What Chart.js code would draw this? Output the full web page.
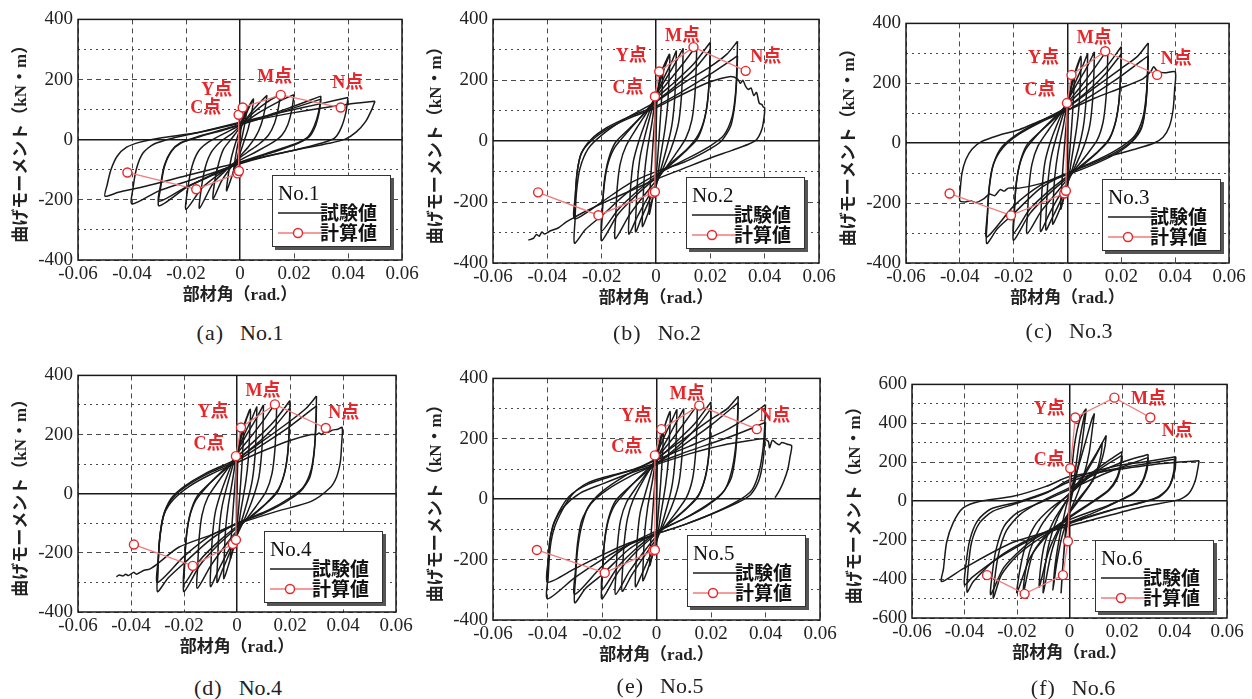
<!DOCTYPE html>
<html lang="ja">
<head>
<meta charset="UTF-8">
<title>部材角－曲げモーメント関係</title>
<script src="https://cdn.jsdelivr.net/npm/chart.js"></script>
<style>
  body { margin: 0; background: #fff; }
  #page { position: relative; width: 1252px; height: 699px; overflow: hidden; background: #fff; }
  .cap { position: absolute; width: 220px; text-align: center; font-family: "Liberation Serif", serif; font-size: 22px; line-height: 26px; color: #222; white-space: nowrap; }
  .cap .p { letter-spacing: 1px; margin-right: 16px; }
</style>
</head>
<body>
<div id="page"></div>
<script>
// ---- axes ----
const xTicks = [-0.06, -0.04, -0.02, 0, 0.02, 0.04, 0.06];
const yTicks400 = [-400, -300, -200, -100, 0, 100, 200, 300, 400];
const yTicks600 = [-600, -500, -400, -300, -200, -100, 0, 100, 200, 300, 400, 500, 600];

// ---- 計算値 (N-, M-, Y-, C-, C+, Y+, M+, N+) ----
const calcNo1 = [[-0.0417,-109],[-0.0162,-165],[-0.0009,-112],[-0.0004,-104],[-0.0005,83],[0.001,107],[0.0151,149],[0.0373,107]];
const calcNo2 = [[-0.0434,-168],[-0.0212,-243],[-0.0012,-170],[-0.0004,-166],[-0.0004,147],[0.0012,229],[0.0138,309],[0.033,231]];
const calcNo3 = [[-0.0438,-168],[-0.021,-241],[-0.0012,-168],[-0.0006,-159],[-0.0002,134],[0.0015,228],[0.014,307],[0.0333,228]];
const calcNo4 = [[-0.0389,-172],[-0.0167,-244],[-0.0016,-170],[-0.0004,-156],[-0.0004,127],[0.0015,224],[0.0143,302],[0.0335,222]];
const calcNo5 = [[-0.0439,-168],[-0.019,-244],[-0.0012,-170],[-0.0006,-168],[-0.0006,145],[0.0018,232],[0.0157,310],[0.0368,232]];
const calcNo6 = [[-0.0314,-380],[-0.0171,-476],[-0.0025,-380],[-0.0006,-206],[0.0003,169],[0.0022,430],[0.0171,532],[0.0308,430]];
const tagIndex = { C: 4, Y: 5, M: 6, N: 7 };

// ---- 試験値 (one array per cycle) ----
const loopsNo1 = [
  [[0,0],[0.0008,70],[0.0025,100],[0.0018,55],[0.0008,10],[-0.0005,-40],[-0.0015,-85],[-0.0025,-115],[-0.0018,-65],[-0.0008,-15],[0.0005,40],[0.0015,75],[0.0025,100]],
  [[0.0025,100],[0.005,135],[0.0042,85],[0.003,35],[0.0015,-5],[0,-45],[-0.002,-95],[-0.0035,-135],[-0.005,-170],[-0.0043,-115],[-0.0032,-60],[-0.0018,-15],[0,35],[0.002,80],[0.0035,110],[0.005,135]],
  [[0.01,148],[0.0092,100],[0.0078,50],[0.0058,10],[0.003,-25],[0,-55],[-0.004,-100],[-0.007,-140],[-0.01,-198],[-0.0093,-135],[-0.0078,-75],[-0.006,-30],[-0.003,5],[0,40],[0.004,90],[0.007,120],[0.01,148]],
  [[0.015,152],[0.0142,105],[0.0128,55],[0.0105,15],[0.007,-15],[0.003,-40],[0,-60],[-0.005,-100],[-0.01,-145],[-0.015,-228],[-0.0143,-160],[-0.0128,-90],[-0.0105,-40],[-0.007,-5],[-0.003,20],[0,45],[0.005,90],[0.01,125],[0.015,152]],
  [[0.02,150],[0.0192,100],[0.0177,50],[0.0155,15],[0.012,-10],[0.006,-40],[0,-68],[-0.007,-110],[-0.014,-160],[-0.02,-232],[-0.0193,-160],[-0.0178,-90],[-0.0155,-40],[-0.012,-10],[-0.006,20],[0,48],[0.007,90],[0.014,125],[0.02,150]],
  [[0.03,145],[0.0292,95],[0.0275,45],[0.0252,10],[0.02,-15],[0.01,-45],[0,-75],[-0.01,-115],[-0.02,-160],[-0.03,-220],[-0.0294,-160],[-0.028,-90],[-0.0255,-40],[-0.022,-12],[-0.015,10],[-0.005,35],[0.005,65],[0.018,105],[0.03,145]],
  [[0.03,135],[0.0293,90],[0.0278,42],[0.0255,8],[0.02,-18],[0.01,-48],[0,-78],[-0.01,-118],[-0.02,-158],[-0.03,-205],[-0.0294,-150],[-0.028,-85],[-0.0255,-38],[-0.022,-10],[-0.015,12],[-0.005,37],[0.005,63],[0.018,100],[0.03,135]],
  [[0.04,140],[0.0392,90],[0.0375,40],[0.035,5],[0.03,-12],[0.02,-35],[0.01,-55],[0,-80],[-0.015,-125],[-0.03,-170],[-0.04,-214],[-0.0396,-160],[-0.0383,-95],[-0.036,-45],[-0.032,-15],[-0.025,5],[-0.015,25],[0,58],[0.015,90],[0.03,120],[0.04,140]],
  [[0.05,128],[0.0488,100],[0.0465,60],[0.043,25],[0.039,2],[0.033,-12],[0.02,-35],[0,-75],[-0.02,-120],[-0.035,-155],[-0.045,-175],[-0.05,-188],[-0.0492,-150],[-0.0478,-100],[-0.0455,-55],[-0.042,-25],[-0.037,-8],[-0.03,5],[-0.015,25],[0,55],[0.02,90],[0.04,118],[0.05,128]]
];

const loopsNo2 = [
  [[0,0],[0.0003,120],[0.0012,200],[0.0025,240],[0.0022,160],[0.0015,60],[0,-120],[-0.0015,-200],[-0.0025,-240],[-0.0022,-160],[-0.0015,-60],[0,120],[0.0015,200],[0.0025,240]],
  [[0.0025,240],[0.005,285],[0.0048,210],[0.0043,120],[0.0033,40],[0.0015,-60],[0,-150],[-0.002,-210],[-0.0035,-250],[-0.005,-280],[-0.0048,-205],[-0.0043,-115],[-0.0033,-35],[-0.0015,60],[0,150],[0.002,210],[0.0035,250],[0.005,285]],
  [[0.0075,298],[0.0073,220],[0.0068,130],[0.0058,50],[0.004,-20],[0,-145],[-0.003,-205],[-0.0055,-255],[-0.0075,-298],[-0.0073,-220],[-0.0068,-130],[-0.0058,-50],[-0.004,20],[0,150],[0.003,210],[0.0055,255],[0.0075,298]],
  [[0.01,305],[0.0098,230],[0.0093,140],[0.0083,60],[0.0065,0],[0.004,-60],[0,-140],[-0.004,-200],[-0.007,-250],[-0.01,-305],[-0.0098,-230],[-0.0093,-145],[-0.0083,-65],[-0.0065,-5],[-0.004,60],[0,150],[0.004,210],[0.007,255],[0.01,305]],
  [[0.015,315],[0.0148,240],[0.0143,150],[0.0132,70],[0.011,10],[0.007,-45],[0.003,-95],[0,-130],[-0.005,-185],[-0.01,-245],[-0.015,-320],[-0.0148,-245],[-0.0143,-155],[-0.0132,-75],[-0.011,-15],[-0.007,45],[-0.003,100],[0,145],[0.005,200],[0.01,255],[0.015,315]],
  [[0.02,325],[0.0198,250],[0.0193,160],[0.018,80],[0.0155,20],[0.011,-30],[0.005,-75],[0,-120],[-0.007,-175],[-0.014,-240],[-0.02,-327],[-0.0198,-250],[-0.0193,-165],[-0.018,-85],[-0.0155,-25],[-0.011,25],[-0.005,85],[0,140],[0.007,195],[0.014,255],[0.02,325]],
  [[0.02,300],[0.0197,220],[0.019,130],[0.0175,60],[0.015,5],[0.01,-40],[0.005,-80],[0,-115],[-0.007,-165],[-0.014,-225],[-0.02,-295],[-0.0197,-215],[-0.019,-130],[-0.0175,-60],[-0.015,-5],[-0.01,40],[-0.005,85],[0,130],[0.007,180],[0.014,235],[0.02,300]],
  [[0.03,328],[0.0298,250],[0.0293,160],[0.028,80],[0.025,20],[0.02,-15],[0.012,-55],[0,-110],[-0.01,-165],[-0.02,-245],[-0.026,-290],[-0.03,-335],[-0.0298,-260],[-0.0293,-170],[-0.028,-90],[-0.025,-25],[-0.02,20],[-0.012,70],[0,130],[0.01,190],[0.02,245],[0.026,285],[0.03,328]],
  [[0.03,280],[0.0297,200],[0.029,120],[0.0275,50],[0.024,0],[0.018,-35],[0.01,-70],[0,-100],[-0.01,-140],[-0.02,-200],[-0.03,-255],[-0.0297,-180],[-0.029,-100],[-0.0275,-40],[-0.024,5],[-0.018,45],[-0.01,80],[0,115],[0.01,165],[0.02,220],[0.03,280]],
  [[-0.03,-255],[-0.0297,-180],[-0.029,-100],[-0.0275,-40],[-0.024,0],[-0.018,40],[-0.01,75],[0,110],[0.01,155],[0.02,195],[0.027,212],[0.03,205],[0.031,190],[0.032,200],[0.033,180],[0.034,170],[0.035,175],[0.036,150],[0.037,160],[0.038,125],[0.039,120],[0.0395,112],[0.04,110],[0.0398,80],[0.039,40],[0.037,5],[0.034,-10],[0.028,-30],[0.02,-55],[0.01,-90],[0,-125],[-0.01,-165],[-0.02,-205],[-0.027,-235],[-0.03,-250],[-0.033,-265],[-0.036,-285],[-0.039,-295],[-0.041,-305],[-0.042,-298],[-0.043,-312],[-0.044,-306],[-0.045,-318],[-0.047,-325]]
];

const loopsNo3 = [
  [[0,0],[0.0003,110],[0.0012,190],[0.0025,230],[0.0022,150],[0.0015,50],[0,-110],[-0.0015,-185],[-0.0025,-220],[-0.0022,-150],[-0.0015,-55],[0,110],[0.0015,195],[0.0025,230]],
  [[0.0025,230],[0.005,290],[0.0048,215],[0.0043,125],[0.0033,45],[0.0015,-55],[0,-140],[-0.002,-200],[-0.004,-245],[-0.0055,-270],[-0.0053,-195],[-0.0047,-110],[-0.0035,-30],[-0.0015,60],[0,140],[0.002,205],[0.0035,250],[0.005,290]],
  [[0.0075,300],[0.0073,220],[0.0068,130],[0.0058,50],[0.004,-20],[0,-135],[-0.003,-200],[-0.006,-255],[-0.008,-290],[-0.0078,-210],[-0.0072,-125],[-0.006,-45],[-0.004,25],[0,140],[0.003,205],[0.0055,255],[0.0075,300]],
  [[0.01,305],[0.0098,230],[0.0093,140],[0.0083,60],[0.0065,0],[0.004,-55],[0,-130],[-0.004,-190],[-0.007,-240],[-0.01,-295],[-0.0098,-220],[-0.0093,-135],[-0.0083,-60],[-0.0065,0],[-0.004,60],[0,140],[0.004,205],[0.007,250],[0.01,305]],
  [[0.015,315],[0.0148,240],[0.0143,150],[0.0132,70],[0.011,10],[0.007,-40],[0.003,-85],[0,-120],[-0.005,-175],[-0.01,-230],[-0.015,-302],[-0.0148,-230],[-0.0143,-145],[-0.0132,-70],[-0.011,-10],[-0.007,45],[-0.003,95],[0,135],[0.005,190],[0.01,250],[0.015,315]],
  [[0.02,322],[0.0198,245],[0.0193,155],[0.018,75],[0.0155,15],[0.011,-30],[0.005,-75],[0,-115],[-0.007,-170],[-0.014,-235],[-0.02,-324],[-0.0198,-245],[-0.0193,-160],[-0.018,-80],[-0.0155,-20],[-0.011,30],[-0.005,85],[0,130],[0.007,190],[0.014,250],[0.02,322]],
  [[0.02,298],[0.0197,220],[0.019,130],[0.0175,60],[0.015,5],[0.01,-40],[0.005,-78],[0,-110],[-0.007,-160],[-0.014,-220],[-0.02,-300],[-0.0197,-215],[-0.019,-130],[-0.0175,-60],[-0.015,-5],[-0.01,40],[-0.005,80],[0,120],[0.007,170],[0.014,230],[0.02,298]],
  [[0.03,335],[0.0298,255],[0.0293,165],[0.028,85],[0.025,25],[0.02,-12],[0.012,-52],[0,-100],[-0.01,-150],[-0.02,-235],[-0.026,-285],[-0.03,-335],[-0.0298,-255],[-0.0293,-165],[-0.028,-85],[-0.025,-20],[-0.02,22],[-0.012,65],[0,120],[0.01,185],[0.02,250],[0.026,290],[0.03,335]],
  [[0.03,292],[0.0297,210],[0.029,125],[0.0275,55],[0.024,8],[0.018,-30],[0.01,-65],[0,-100],[-0.01,-140],[-0.02,-210],[-0.03,-313],[-0.0297,-230],[-0.029,-145],[-0.0275,-70],[-0.024,-15],[-0.018,30],[-0.01,70],[0,110],[0.01,165],[0.02,225],[0.03,292]],
  [[0.03,292],[0.0297,210],[0.029,120],[0.0275,50],[0.024,5],[0.018,-35],[0.01,-70],[0,-105],[-0.01,-135],[-0.018,-150],[-0.022,-150],[-0.0235,-160],[-0.025,-155],[-0.027,-175],[-0.029,-170],[-0.031,-185],[-0.034,-198],[-0.036,-192],[-0.038,-196],[-0.04,-192],[-0.0398,-150],[-0.0392,-100],[-0.0378,-55],[-0.0355,-20],[-0.032,5],[-0.026,25],[-0.018,45],[-0.01,75],[0,110],[0.01,150],[0.02,185],[0.028,215],[0.031,240],[0.032,255],[0.0335,240],[0.036,235],[0.04,238],[0.0398,180],[0.0392,110],[0.0378,55],[0.0355,20],[0.032,0],[0.025,-20],[0.015,-45]]
];

const loopsNo4 = [
  [[0,0],[0.0003,110],[0.0012,190],[0.0025,230],[0.0022,150],[0.0015,50],[0,-110],[-0.0015,-185],[-0.0025,-220],[-0.0022,-150],[-0.0015,-55],[0,110],[0.0015,190],[0.0025,230]],
  [[0.0025,230],[0.005,285],[0.0048,210],[0.0043,120],[0.0033,40],[0.0015,-55],[0,-140],[-0.002,-205],[-0.0035,-250],[-0.005,-287],[-0.0048,-210],[-0.0043,-120],[-0.0033,-40],[-0.0015,55],[0,140],[0.002,205],[0.0035,250],[0.005,285]],
  [[0.0075,295],[0.0073,218],[0.0068,128],[0.0058,48],[0.004,-22],[0,-140],[-0.003,-205],[-0.0055,-258],[-0.0075,-300],[-0.0073,-222],[-0.0068,-132],[-0.0058,-52],[-0.004,18],[0,140],[0.003,205],[0.0055,252],[0.0075,295]],
  [[0.01,300],[0.0098,225],[0.0093,138],[0.0083,58],[0.0065,-2],[0.004,-62],[0,-140],[-0.004,-205],[-0.007,-258],[-0.01,-314],[-0.0098,-235],[-0.0093,-148],[-0.0083,-68],[-0.0065,-8],[-0.004,55],[0,140],[0.004,205],[0.007,250],[0.01,300]],
  [[0.015,313],[0.0148,238],[0.0143,148],[0.0132,68],[0.011,8],[0.007,-45],[0.003,-92],[0,-125],[-0.005,-182],[-0.01,-245],[-0.015,-320],[-0.0148,-242],[-0.0143,-152],[-0.0132,-72],[-0.011,-12],[-0.007,42],[-0.003,92],[0,135],[0.005,190],[0.01,248],[0.015,313]],
  [[0.02,315],[0.0198,240],[0.0193,150],[0.018,72],[0.0155,14],[0.011,-32],[0.005,-78],[0,-115],[-0.007,-172],[-0.014,-242],[-0.02,-331],[-0.0198,-250],[-0.0193,-162],[-0.018,-82],[-0.0155,-22],[-0.011,28],[-0.005,82],[0,125],[0.007,182],[0.014,245],[0.02,315]],
  [[0.02,290],[0.0197,212],[0.019,125],[0.0175,56],[0.015,2],[0.01,-42],[0.005,-80],[0,-110],[-0.007,-162],[-0.014,-225],[-0.02,-305],[-0.0197,-222],[-0.019,-135],[-0.0175,-62],[-0.015,-8],[-0.01,38],[-0.005,78],[0,115],[0.007,165],[0.014,225],[0.02,290]],
  [[0.03,330],[0.0298,252],[0.0293,162],[0.028,82],[0.025,22],[0.02,-14],[0.012,-55],[0,-100],[-0.01,-155],[-0.02,-235],[-0.026,-285],[-0.03,-331],[-0.0298,-252],[-0.0293,-162],[-0.028,-82],[-0.025,-18],[-0.02,24],[-0.012,68],[0,118],[0.01,180],[0.02,245],[0.026,288],[0.03,330]],
  [[0.03,297],[0.0297,215],[0.029,128],[0.0275,56],[0.024,8],[0.018,-30],[0.01,-66],[0,-100],[-0.01,-142],[-0.02,-212],[-0.03,-300],[-0.0297,-220],[-0.029,-138],[-0.0275,-66],[-0.024,-12],[-0.018,32],[-0.01,72],[0,112],[0.01,168],[0.02,228],[0.03,297]],
  [[-0.03,-300],[-0.0297,-220],[-0.029,-140],[-0.0275,-70],[-0.024,-20],[-0.018,25],[-0.01,65],[0,105],[0.01,145],[0.02,180],[0.028,200],[0.03,200],[0.031,205],[0.032,200],[0.033,210],[0.0345,208],[0.036,215],[0.038,218],[0.0397,224],[0.0395,170],[0.039,108],[0.0375,55],[0.035,19],[0.028,-26],[0.0153,-59],[0,-103],[-0.01,-140],[-0.022,-181],[-0.03,-237],[-0.033,-255],[-0.035,-259],[-0.037,-268],[-0.038,-272],[-0.039,-266],[-0.041,-277],[-0.042,-272],[-0.043,-278],[-0.0445,-275],[-0.0455,-281]]
];

const loopsNo5 = [
  [[0,0],[0.0003,115],[0.0012,195],[0.0025,230],[0.0022,150],[0.0015,50],[0,-110],[-0.0015,-185],[-0.0025,-220],[-0.0022,-150],[-0.0015,-55],[0,115],[0.0015,195],[0.0025,230]],
  [[0.0025,230],[0.005,290],[0.0048,215],[0.0043,125],[0.0033,45],[0.0015,-55],[0,-140],[-0.002,-200],[-0.0035,-240],[-0.005,-270],[-0.0048,-195],[-0.0043,-110],[-0.0033,-30],[-0.0015,60],[0,145],[0.002,210],[0.0035,255],[0.005,290]],
  [[0.0075,298],[0.0073,220],[0.0068,130],[0.0058,50],[0.004,-20],[0,-140],[-0.003,-200],[-0.0055,-250],[-0.0077,-290],[-0.0075,-212],[-0.007,-125],[-0.006,-45],[-0.004,22],[0,145],[0.003,210],[0.0055,258],[0.0075,298]],
  [[0.01,300],[0.0098,225],[0.0093,138],[0.0083,58],[0.0065,-2],[0.004,-58],[0,-130],[-0.005,-195],[-0.009,-250],[-0.0126,-305],[-0.0124,-225],[-0.0118,-140],[-0.0106,-62],[-0.0085,0],[-0.005,60],[0,135],[0.004,200],[0.007,250],[0.01,300]],
  [[0.015,312],[0.0148,236],[0.0143,146],[0.0132,66],[0.011,6],[0.007,-46],[0.003,-92],[0,-122],[-0.005,-178],[-0.01,-240],[-0.015,-315],[-0.0148,-238],[-0.0143,-150],[-0.0132,-70],[-0.011,-10],[-0.007,44],[-0.003,94],[0,135],[0.005,190],[0.01,250],[0.015,312]],
  [[0.02,322],[0.0198,245],[0.0193,155],[0.018,75],[0.0155,15],[0.011,-30],[0.005,-76],[0,-114],[-0.007,-170],[-0.014,-240],[-0.02,-330],[-0.0198,-250],[-0.0193,-162],[-0.018,-82],[-0.0155,-22],[-0.011,28],[-0.005,84],[0,128],[0.007,188],[0.014,250],[0.02,322]],
  [[0.02,300],[0.0197,222],[0.019,132],[0.0175,60],[0.015,5],[0.01,-40],[0.005,-78],[0,-110],[-0.007,-160],[-0.014,-222],[-0.02,-300],[-0.0197,-218],[-0.019,-132],[-0.0175,-60],[-0.015,-5],[-0.01,40],[-0.005,80],[0,118],[0.007,168],[0.014,230],[0.02,300]],
  [[0.03,341],[0.0297,260],[0.029,170],[0.0275,90],[0.025,30],[0.02,-10],[0.012,-55],[0,-110],[-0.01,-165],[-0.02,-250],[-0.026,-295],[-0.03,-343],[-0.0297,-260],[-0.029,-170],[-0.0275,-90],[-0.025,-25],[-0.02,25],[-0.012,75],[0,135],[0.01,200],[0.02,265],[0.026,300],[0.03,341]],
  [[0.03,320],[0.0297,238],[0.029,150],[0.0275,72],[0.024,18],[0.018,-25],[0.01,-65],[0,-105],[-0.01,-150],[-0.02,-222],[-0.03,-315],[-0.0297,-232],[-0.029,-148],[-0.0275,-72],[-0.024,-14],[-0.018,32],[-0.01,74],[0,118],[0.01,180],[0.02,245],[0.03,320]],
  [[0.04,313],[0.0397,240],[0.039,160],[0.0375,85],[0.035,30],[0.03,-5],[0.02,-50],[0.01,-85],[0,-115],[-0.01,-150],[-0.02,-200],[-0.03,-260],[-0.04,-330],[-0.0397,-250],[-0.039,-160],[-0.0375,-95],[-0.0345,-35],[-0.031,15],[-0.027,45],[-0.022,65],[-0.016,80],[-0.008,100],[0,130],[0.012,175],[0.025,226],[0.035,280],[0.04,313]],
  [[0.04,255],[0.0397,190],[0.039,120],[0.0375,60],[0.0345,15],[0.03,-10],[0.02,-50],[0.01,-85],[0,-115],[-0.01,-145],[-0.02,-185],[-0.03,-230],[-0.04,-275],[-0.0397,-200],[-0.0392,-140],[-0.038,-90],[-0.036,-45],[-0.032,10],[-0.025,50],[-0.015,80],[0,120],[0.012,160],[0.025,200],[0.035,235],[0.04,255]],
  [[-0.04,-275],[-0.0397,-200],[-0.039,-130],[-0.0375,-75],[-0.034,-25],[-0.028,20],[-0.02,50],[-0.01,85],[0,115],[0.012,150],[0.025,180],[0.035,195],[0.039,200],[0.041,192],[0.0415,170],[0.0425,195],[0.044,185],[0.045,180],[0.046,188],[0.048,182],[0.0496,177],[0.049,140],[0.0482,100],[0.0468,62],[0.0452,30],[0.0435,5]]
];

const loopsNo6 = [
  [[0,0],[0.0008,150],[0.002,300],[0.004,420],[0.0063,473],[0.0057,397],[0.0044,262],[0.0025,127],[0.0006,8],[-0.0013,-127],[-0.0022,-270],[-0.0028,-380],[-0.0032,-470],[-0.0025,-330],[-0.0015,-180],[0,-40],[0.0019,127],[0.0038,312],[0.0055,430],[0.0063,473]],
  [[0.0095,451],[0.0088,380],[0.0075,250],[0.0052,120],[0.0025,20],[0,-60],[-0.003,-190],[-0.005,-330],[-0.0063,-456],[-0.0055,-330],[-0.004,-200],[-0.002,-70],[0,40],[0.003,160],[0.006,300],[0.0085,420],[0.0095,451]],
  [[0.014,338],[0.0135,280],[0.012,200],[0.009,110],[0.005,30],[0,-60],[-0.004,-150],[-0.007,-270],[-0.01,-470],[-0.0095,-360],[-0.008,-230],[-0.005,-100],[0,30],[0.005,130],[0.01,240],[0.014,338]],
  [[0.0125,300],[0.012,240],[0.0105,160],[0.008,90],[0.004,20],[0,-55],[-0.004,-140],[-0.008,-260],[-0.0115,-440],[-0.011,-340],[-0.0095,-220],[-0.006,-100],[0,25],[0.005,120],[0.0095,220],[0.0125,300]],
  [[0.02,255],[0.0195,190],[0.018,120],[0.015,60],[0.01,10],[0,-80],[-0.008,-160],[-0.014,-270],[-0.0177,-481],[-0.017,-380],[-0.015,-250],[-0.011,-130],[-0.006,-40],[0,40],[0.008,140],[0.015,210],[0.02,255]],
  [[0.02,235],[0.0195,175],[0.018,110],[0.015,55],[0.01,5],[0,-85],[-0.008,-170],[-0.015,-290],[-0.02,-470],[-0.019,-360],[-0.017,-240],[-0.013,-120],[-0.007,-35],[0,35],[0.008,130],[0.015,195],[0.02,235]],
  [[0.03,240],[0.0295,180],[0.028,110],[0.025,50],[0.02,10],[0.01,-55],[0,-110],[-0.01,-180],[-0.02,-280],[-0.026,-380],[-0.029,-498],[-0.0285,-400],[-0.027,-270],[-0.024,-150],[-0.019,-70],[-0.012,-10],[0,70],[0.01,140],[0.02,200],[0.03,240]],
  [[0.03,225],[0.0295,160],[0.0275,90],[0.024,35],[0.015,-20],[0,-95],[-0.015,-210],[-0.025,-340],[-0.03,-480],[-0.0295,-380],[-0.028,-250],[-0.025,-130],[-0.02,-60],[-0.01,0],[0,60],[0.015,150],[0.03,225]],
  [[0.0405,228],[0.0402,160],[0.038,76],[0.034,25],[0.029,0],[0.0165,-42],[0,-110],[-0.0152,-194],[-0.0278,-295],[-0.0367,-414],[-0.039,-467],[-0.0386,-346],[-0.0373,-211],[-0.0342,-110],[-0.0291,-51],[-0.0215,-17],[-0.0089,42],[0,110],[0.0165,177],[0.029,203],[0.0405,228]],
  [[0.04,215],[0.0397,150],[0.0378,70],[0.034,20],[0.028,-5],[0.015,-50],[0,-115],[-0.015,-200],[-0.028,-300],[-0.037,-390],[-0.04,-430],[-0.0395,-330],[-0.038,-200],[-0.035,-100],[-0.03,-40],[-0.02,-5],[-0.008,50],[0,100],[0.015,160],[0.028,190],[0.04,215]],
  [[0.0494,208],[0.048,110],[0.0456,42],[0.0418,8],[0.029,-25],[0.0165,-68],[0,-127],[-0.0215,-211],[-0.0405,-346],[-0.0487,-413],[-0.048,-346],[-0.0468,-211],[-0.0443,-110],[-0.0405,-34],[-0.034,0],[-0.0215,25],[-0.0089,76],[0,127],[0.0165,160],[0.0354,194],[0.0494,208]]
];

// ---- layout of the six panels (plot-area pixel boxes on the page) ----
const panels = [
  { name: 'No.1', cap: '(a)', loops: loopsNo1, calc: calcNo1, yTicks: yTicks400, box: { l: 78, t: 17, r: 402, b: 260 }, capAt: [240, 333], legendInset: [11, 13],
    tags: { C: [-33, -6], Y: [-26, -17], M: [-6, -18], N: [7, -24] } },
  { name: 'No.2', cap: '(b)', loops: loopsNo2, calc: calcNo2, yTicks: yTicks400, box: { l: 493, t: 17, r: 819, b: 263 }, capAt: [657, 333], legendInset: [14, 14],
    tags: { C: [-27, -8], Y: [-28, -15], M: [-11, -11], N: [20, -14] } },
  { name: 'No.3', cap: '(c)', loops: loopsNo3, calc: calcNo3, yTicks: yTicks400, box: { l: 906, t: 21, r: 1229, b: 263 }, capAt: [1069, 331], legendInset: [8, 12],
    tags: { C: [-27, -13], Y: [-28, -17], M: [-11, -13], N: [19, -16] } },
  { name: 'No.4', cap: '(d)', loops: loopsNo4, calc: calcNo4, yTicks: yTicks400, box: { l: 78, t: 373, r: 396, b: 612 }, capAt: [238, 688], legendInset: [13, 9],
    tags: { C: [-27, -12], Y: [-28, -15], M: [-12, -13], N: [18, -15] } },
  { name: 'No.5', cap: '(e)', loops: loopsNo5, calc: calcNo5, yTicks: yTicks400, box: { l: 493, t: 376, r: 820, b: 620 }, capAt: [660, 686], legendInset: [14, 13],
    tags: { C: [-28, -8], Y: [-25, -13], M: [-12, -11], N: [18, -13] } },
  { name: 'No.6', cap: '(f)', loops: loopsNo6, calc: calcNo6, yTicks: yTicks600, box: { l: 912, t: 382, r: 1227, b: 618 }, capAt: [1073, 688], legendInset: [13, 6],
    tags: { C: [-21, -8], Y: [-26, -8], M: [34, 2], N: [27, 14] } }
];

const AX_W = 78, AX_H = 52, PAD_T = 14, PAD_R = 22;
const SERIF = '"Liberation Serif", "Times New Roman", serif';
const MIXED = '"Liberation Serif", "Noto Sans CJK JP", sans-serif';
const GOTHIC = '"Noto Sans CJK JP", "Noto Sans", sans-serif';
const page = document.getElementById('page');

const isZero = v => Math.abs(v) < 1e-9;
function gridDash(ctx) {
  if (!ctx.tick || isZero(ctx.tick.value)) return [];
  if (ctx.scale.axis === 'y' && !isZero(ctx.tick.value % 200)) return [2, 4];
  return [5, 4];
}
const gridColor = ctx => (ctx.tick && isZero(ctx.tick.value)) ? '#1a1a1a' : '#4a4a4a';
const gridWidth = ctx => (ctx.tick && isZero(ctx.tick.value)) ? 1.5 : 1;

panels.forEach(p => {
  const W = (p.box.r - p.box.l) + AX_W + PAD_R;
  const H = (p.box.b - p.box.t) + PAD_T + AX_H;
  const cv = document.createElement('canvas');
  cv.width = W; cv.height = H;
  cv.style.cssText = `position:absolute;left:${p.box.l - AX_W}px;top:${p.box.t - PAD_T}px;width:${W}px;height:${H}px;`;
  page.appendChild(cv);

  const cap = document.createElement('div');
  cap.className = 'cap';
  cap.style.left = (p.capAt[0] - 110) + 'px';
  cap.style.top = (p.capAt[1] - 13) + 'px';
  cap.innerHTML = `<span class="p">${p.cap}</span>${p.name}`;
  page.appendChild(cap);

  const decor = {
    id: 'decor',
    afterDatasetsDraw(chart) {
      const { ctx, chartArea: a, scales: { x, y } } = chart;
      ctx.save();
      // point names
      ctx.font = `bold 18px ${MIXED}`;
      ctx.fillStyle = '#e8262a';
      ctx.textAlign = 'center';
      ctx.textBaseline = 'middle';
      Object.entries(p.tags).forEach(([k, off]) => {
        const pt = p.calc[tagIndex[k]];
        ctx.fillText(k + '点', x.getPixelForValue(pt[0]) + off[0], y.getPixelForValue(pt[1]) + off[1]);
      });
      // legend box
      const bw = 119, bh = 72;
      const bx = Math.round(a.right - p.legendInset[0] - bw), by = Math.round(a.bottom - p.legendInset[1] - bh);
      ctx.fillStyle = '#555';
      ctx.fillRect(bx + 3, by + 3, bw, bh);
      ctx.fillStyle = '#fff';
      ctx.fillRect(bx, by, bw, bh);
      ctx.strokeStyle = '#333';
      ctx.lineWidth = 1;
      ctx.strokeRect(bx + 0.5, by + 0.5, bw - 1, bh - 1);
      ctx.fillStyle = '#111';
      ctx.textAlign = 'left';
      ctx.textBaseline = 'alphabetic';
      ctx.font = `21px ${SERIF}`;
      ctx.fillText(p.name, bx + 6, by + 25);
      ctx.strokeStyle = '#1c1c1c';
      ctx.lineWidth = 1.3;
      ctx.beginPath(); ctx.moveTo(bx + 6, by + 38); ctx.lineTo(bx + 52, by + 38); ctx.stroke();
      ctx.strokeStyle = '#f27a7a';
      ctx.beginPath(); ctx.moveTo(bx + 6, by + 58); ctx.lineTo(bx + 52, by + 58); ctx.stroke();
      ctx.beginPath(); ctx.arc(bx + 26, by + 58, 4.5, 0, Math.PI * 2);
      ctx.fillStyle = '#fff'; ctx.fill();
      ctx.strokeStyle = '#e8262a'; ctx.lineWidth = 1.4; ctx.stroke();
      ctx.fillStyle = '#111';
      ctx.textBaseline = 'middle';
      ctx.font = `bold 19px ${GOTHIC}`;
      ctx.fillText('試験値', bx + 48, by + 38);
      ctx.fillText('計算値', bx + 48, by + 58);
      // plot frame
      ctx.strokeStyle = '#1a1a1a';
      ctx.lineWidth = 1.5;
      ctx.strokeRect(a.left, a.top, a.right - a.left, a.bottom - a.top);
      ctx.restore();
    }
  };

  const datasets = [{
    data: p.calc.map(([x, y]) => ({ x, y })),
    showLine: true, borderColor: '#f27a7a', borderWidth: 1.3, tension: 0,
    pointRadius: 4.5, pointBorderColor: '#e8262a', pointBackgroundColor: '#fff', pointBorderWidth: 1.4,
    order: 0
  }].concat(p.loops.map(loop => ({
    data: loop.map(([x, y]) => ({ x, y })),
    showLine: true, borderColor: '#1a1a1a', borderWidth: 1.5, pointRadius: 0, tension: 0.25,
    order: 1
  })));

  new Chart(cv, {
    type: 'scatter',
    data: { datasets },
    options: {
      responsive: false,
      animation: false,
      events: [],
      layout: { padding: { left: 0, top: PAD_T, right: PAD_R, bottom: 0 } },
      plugins: { legend: { display: false }, tooltip: { enabled: false } },
      scales: {
        x: {
          type: 'linear', min: -0.06, max: 0.06,
          afterBuildTicks: s => { s.ticks = xTicks.map(v => ({ value: v })); },
          afterFit: s => { s.height = AX_H; },
          ticks: { autoSkip: false, maxRotation: 0, padding: 3, color: '#222', font: { family: SERIF, size: 19 },
                   callback: v => isZero(v) ? '0' : v.toFixed(2) },
          grid: { drawTicks: false, color: gridColor, lineWidth: gridWidth },
          border: { display: false, dash: gridDash },
          title: { display: true, text: '部材角（rad.）', color: '#222', font: { family: MIXED, size: 17, weight: 'bold' }, padding: { top: 0, bottom: 6 } }
        },
        y: {
          type: 'linear', min: p.yTicks[0], max: p.yTicks[p.yTicks.length - 1],
          afterBuildTicks: s => { s.ticks = p.yTicks.map(v => ({ value: v })); },
          afterFit: s => { s.width = AX_W; },
          ticks: { autoSkip: false, padding: 5, color: '#222', font: { family: SERIF, size: 19 },
                   callback: v => isZero(v % 200) ? String(v) : '' },
          grid: { drawTicks: false, color: gridColor, lineWidth: gridWidth },
          border: { display: false, dash: gridDash },
          title: { display: true, text: '曲げモーメント（kN・m）', color: '#222', font: { family: MIXED, size: 17, weight: 'bold' }, padding: { top: 11, bottom: 0 } }
        }
      }
    },
    plugins: [decor]
  });
});
</script>
</body>
</html>
